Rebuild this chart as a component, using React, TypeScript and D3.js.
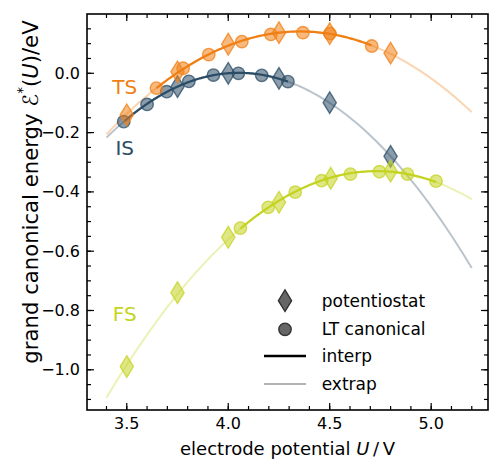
import React from 'react';
import * as d3 from 'd3';

const W = 489;
const H = 461;
const plot = { left: 87, top: 14, right: 488, bottom: 410 };

const xDomain = [3.304, 5.28];
const yDomain = [-1.1356, 0.2];
const xTicks = [3.5, 4.0, 4.5, 5.0];
const yTicks = [0.0, -0.2, -0.4, -0.6, -0.8, -1.0];
const extrapRange = [3.4, 5.2];

// Potentiostat (diamonds) and LT canonical (circles) data per state
const isPotU = [3.75, 4.0, 4.25, 4.5, 4.8];
const isPotE = [-0.045, 0.0, -0.017, -0.099, -0.28];
const isLtU = [3.485, 3.6, 3.697, 3.806, 3.927, 4.05, 4.165, 4.294];
const isLtE = [-0.163, -0.105, -0.062, -0.027, -0.006, 0.0, -0.007, -0.028];

const tsPotU = [3.5, 3.75, 4.0, 4.25, 4.5, 4.8];
const tsPotE = [-0.14, 0.005, 0.098, 0.137, 0.134, 0.068];
const tsLtU = [3.646, 3.778, 3.904, 4.067, 4.21, 4.368, 4.501, 4.707];
const tsLtE = [-0.05, 0.017, 0.063, 0.107, 0.131, 0.137, 0.134, 0.092];

const fsPotU = [3.5, 3.75, 4.0, 4.25, 4.505, 4.8];
const fsPotE = [-0.989, -0.74, -0.553, -0.435, -0.354, -0.33];
const fsLtU = [4.06, 4.197, 4.33, 4.46, 4.602, 4.745, 4.883, 5.024];
const fsLtE = [-0.522, -0.452, -0.401, -0.362, -0.34, -0.332, -0.34, -0.364];

const stateNames = ['IS', 'TS', 'FS'];
const stateColors = ['#2b4c66', '#f07f14', '#c4d321'];
const fitDegree = [3, 2, 2];
const stateLabelU = [3.49, 3.49, 3.49];
const stateLabelE = [-0.252, -0.046, -0.812];

const legendLabels = ['potentiostat', 'LT canonical', 'interp', 'extrap'];

const FONT = 'DejaVu Sans';

function polyfit(xs: number[], ys: number[], deg: number, c: number): number[] {
  const n = deg + 1;
  const A: number[][] = Array.from({ length: n }, () => new Array(n + 1).fill(0));
  for (let k = 0; k < xs.length; k++) {
    const t = xs[k] - c;
    for (let i = 0; i < n; i++) {
      for (let j = 0; j < n; j++) A[i][j] += Math.pow(t, i + j);
      A[i][n] += ys[k] * Math.pow(t, i);
    }
  }
  for (let i = 0; i < n; i++) {
    let p = i;
    for (let r = i + 1; r < n; r++) if (Math.abs(A[r][i]) > Math.abs(A[p][i])) p = r;
    [A[i], A[p]] = [A[p], A[i]];
    for (let r = 0; r < n; r++) {
      if (r === i) continue;
      const f = A[r][i] / A[i][i];
      for (let col = i; col <= n; col++) A[r][col] -= f * A[i][col];
    }
  }
  return A.map((row, i) => row[n] / row[i]);
}

function evalPoly(coef: number[], x: number, c: number) {
  const t = x - c;
  return coef.reduce((s, a, i) => s + a * Math.pow(t, i), 0);
}

export default function App() {
  const x = d3.scaleLinear().domain(xDomain).range([plot.left, plot.right]);
  const y = d3.scaleLinear().domain(yDomain).range([plot.bottom, plot.top]);

  const states = [
    { potU: isPotU, potE: isPotE, ltU: isLtU, ltE: isLtE },
    { potU: tsPotU, potE: tsPotE, ltU: tsLtU, ltE: tsLtE },
    { potU: fsPotU, potE: fsPotE, ltU: fsLtU, ltE: fsLtE },
  ];

  const line = d3
    .line<[number, number]>()
    .x((d) => x(d[0]))
    .y((d) => y(d[1]));

  const curves = states.map((s, si) => {
    const allU = [...s.potU, ...s.ltU];
    const allE = [...s.potE, ...s.ltE];
    const c = 4.3;
    const coef = polyfit(allU, allE, fitDegree[si], c);
    const sample = (a: number, b: number) =>
      d3.range(0, 101).map((i) => {
        const u = a + ((b - a) * i) / 100;
        return [u, evalPoly(coef, u, c)] as [number, number];
      });
    const lo = d3.min(s.ltU) as number;
    const hi = d3.max(s.ltU) as number;
    return { extrap: sample(extrapRange[0], extrapRange[1]), interp: sample(lo, hi) };
  });

  const xMinor = d3.range(34, 53).map((v) => v / 10);
  const yMinor = d3.range(-22, 4).map((v) => v / 20);

  const diamond = (cx: number, cy: number, hw: number, hh: number) =>
    `M${cx},${cy - hh}L${cx + hw},${cy}L${cx},${cy + hh}L${cx - hw},${cy}Z`;

  const majorLen = 7;
  const minorLen = 4;

  return (
    <svg
      width={W}
      height={H}
      style={{ position: 'absolute', left: 0, top: 0, background: '#fff' }}
      fontFamily={FONT}
    >
      <rect x={0} y={0} width={W} height={H} fill="#fff" />
      <defs>
        <clipPath id="clip">
          <rect x={plot.left} y={plot.top} width={plot.right - plot.left} height={plot.bottom - plot.top} />
        </clipPath>
      </defs>

      <g clipPath="url(#clip)">
        {curves.map((cv, i) => (
          <path key={'e' + i} d={line(cv.extrap) || ''} fill="none" stroke={stateColors[i]} strokeOpacity={0.33} strokeWidth={2} />
        ))}
        {curves.map((cv, i) => (
          <path key={'i' + i} d={line(cv.interp) || ''} fill="none" stroke={stateColors[i]} strokeWidth={2.2} />
        ))}
        {states.map((s, i) => (
          <g key={'m' + i}>
            {s.ltU.map((u, k) => (
              <circle
                key={'c' + k}
                cx={x(u)}
                cy={y(s.ltE[k])}
                r={6.2}
                fill={stateColors[i]}
                fillOpacity={0.55}
                stroke={stateColors[i]}
                strokeOpacity={0.75}
                strokeWidth={1.4}
              />
            ))}
            {s.potU.map((u, k) => (
              <path
                key={'d' + k}
                d={diamond(x(u), y(s.potE[k]), 6.6, 10.8)}
                fill={stateColors[i]}
                fillOpacity={0.55}
                stroke={stateColors[i]}
                strokeOpacity={0.75}
                strokeWidth={1.4}
              />
            ))}
          </g>
        ))}
      </g>

      {/* state labels */}
      {stateNames.map((n, i) => (
        <text
          key={n}
          x={x(stateLabelU[i])}
          y={y(stateLabelE[i])}
          fill={stateColors[i]}
          fontSize={20}
          textAnchor="middle"
          dominantBaseline="central"
        >
          {n}
        </text>
      ))}

      {/* ticks */}
      <g stroke="#000" strokeWidth={1.2}>
        {xMinor.map((v) => (
          <g key={'xm' + v}>
            <line x1={x(v)} x2={x(v)} y1={plot.bottom} y2={plot.bottom - minorLen} />
            <line x1={x(v)} x2={x(v)} y1={plot.top} y2={plot.top + minorLen} />
          </g>
        ))}
        {yMinor.map((v) => (
          <g key={'ym' + v}>
            <line y1={y(v)} y2={y(v)} x1={plot.left} x2={plot.left + minorLen} />
            <line y1={y(v)} y2={y(v)} x1={plot.right} x2={plot.right - minorLen} />
          </g>
        ))}
        {xTicks.map((v) => (
          <g key={'xM' + v}>
            <line x1={x(v)} x2={x(v)} y1={plot.bottom} y2={plot.bottom - majorLen} />
            <line x1={x(v)} x2={x(v)} y1={plot.top} y2={plot.top + majorLen} />
          </g>
        ))}
        {yTicks.map((v) => (
          <g key={'yM' + v}>
            <line y1={y(v)} y2={y(v)} x1={plot.left} x2={plot.left + majorLen} />
            <line y1={y(v)} y2={y(v)} x1={plot.right} x2={plot.right - majorLen} />
          </g>
        ))}
      </g>
      <rect
        x={plot.left}
        y={plot.top}
        width={plot.right - plot.left}
        height={plot.bottom - plot.top}
        fill="none"
        stroke="#000"
        strokeWidth={1.6}
      />

      {/* tick labels */}
      {xTicks.map((v) => (
        <text key={'xl' + v} x={x(v)} y={plot.bottom + 19} fontSize={16} textAnchor="middle">
          {d3.format('.1f')(v)}
        </text>
      ))}
      {yTicks.map((v) => (
        <text key={'yl' + v} x={plot.left - 7} y={y(v)} fontSize={16} textAnchor="end" dominantBaseline="central">
          {d3.format('.1f')(v).replace('-', '\u2212')}
        </text>
      ))}

      {/* axis labels */}
      <text x={(plot.left + plot.right) / 2} y={455} fontSize={18} textAnchor="middle">
        electrode potential <tspan fontStyle="italic">U</tspan>
        {'\u2009/\u2009V'}
      </text>
      <text transform={`translate(30,192) rotate(-90)`} fontSize={21.2} textAnchor="middle" dominantBaseline="central">
        grand canonical energy <tspan fontStyle="italic">{'\u2130'}</tspan>
        <tspan fontSize={13.5} dy={-8}>*</tspan>
        <tspan dy={8}>(</tspan>
        <tspan fontStyle="italic">U</tspan>
        {')/eV'}
      </text>

      {/* legend */}
      <g fontSize={17}>
        <path d={diamond(285, 300.7, 6.6, 10.8)} fill="#555" fillOpacity={0.9} stroke="#333" strokeWidth={1.4} />
        <text x={321.7} y={300.7} dominantBaseline="central">{legendLabels[0]}</text>
        <circle cx={285} cy={329.3} r={6.2} fill="#555" fillOpacity={0.9} stroke="#333" strokeWidth={1.4} />
        <text x={321.7} y={329.3} dominantBaseline="central">{legendLabels[1]}</text>
        <line x1={264} x2={306} y1={356} y2={356} stroke="#000" strokeWidth={2.4} />
        <text x={321.7} y={356} dominantBaseline="central">{legendLabels[2]}</text>
        <line x1={264} x2={306} y1={384} y2={384} stroke="#000" strokeOpacity={0.3} strokeWidth={2} />
        <text x={321.7} y={384} dominantBaseline="central">{legendLabels[3]}</text>
      </g>
    </svg>
  );
}
